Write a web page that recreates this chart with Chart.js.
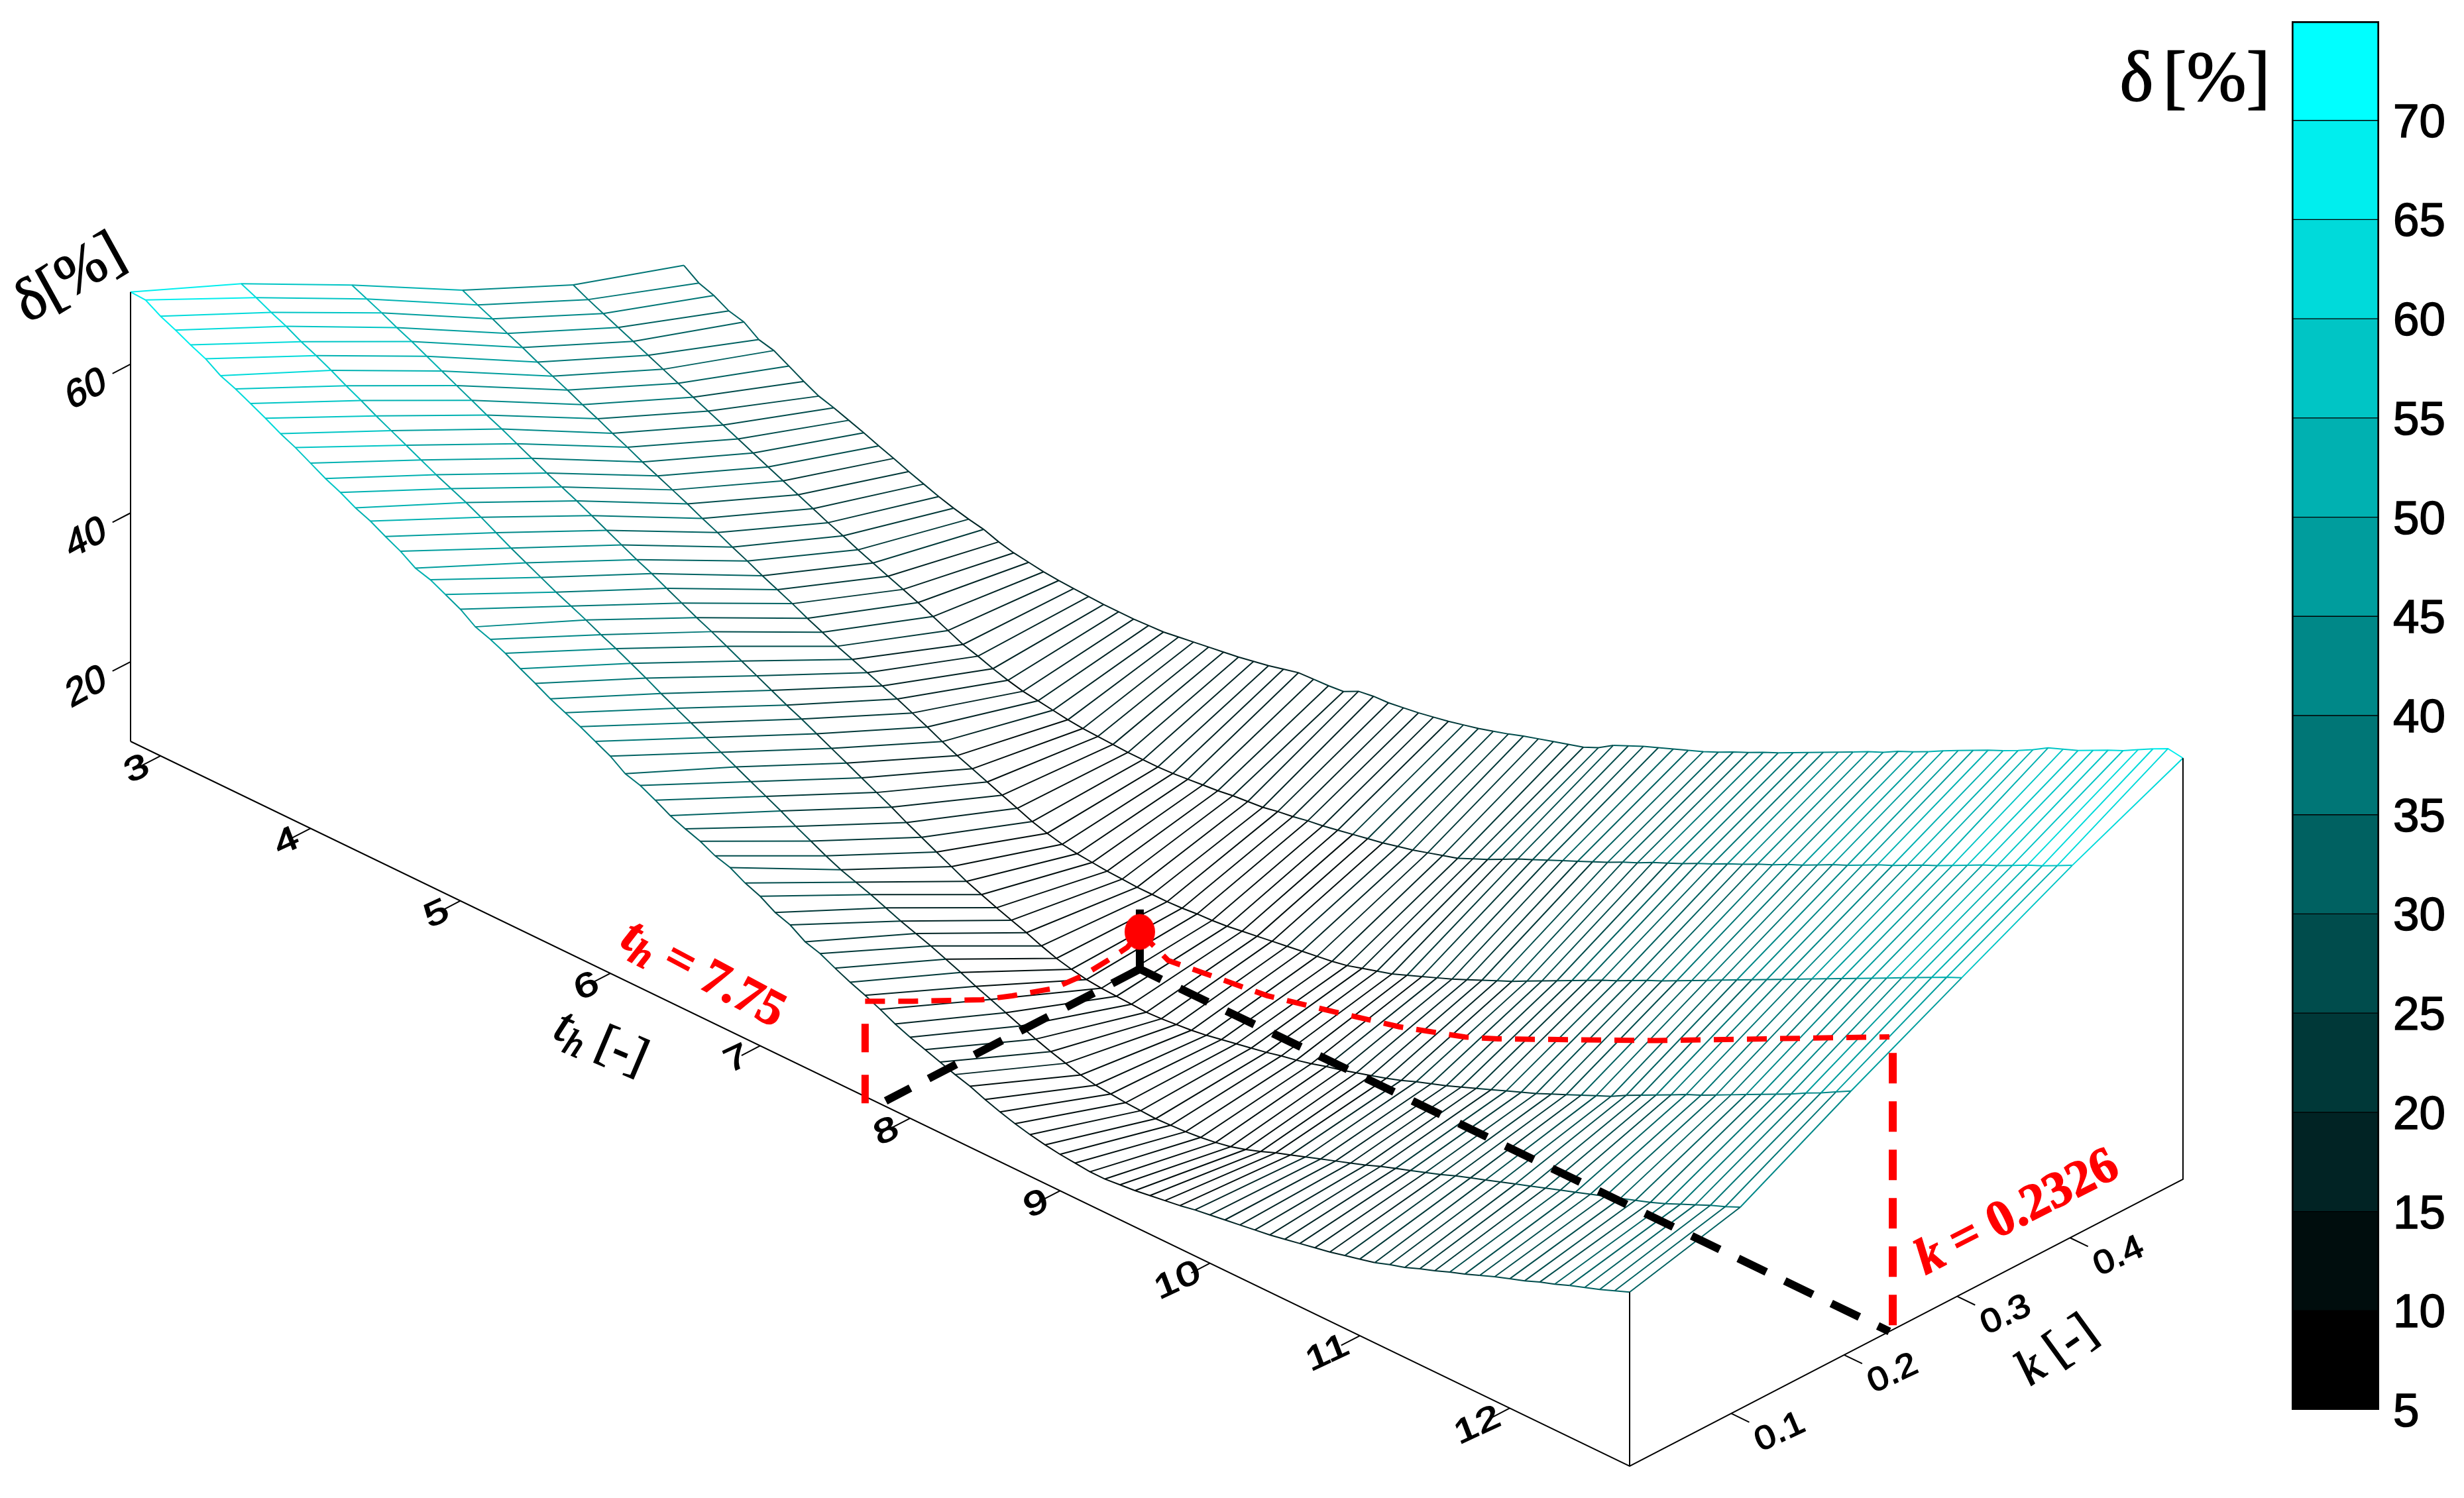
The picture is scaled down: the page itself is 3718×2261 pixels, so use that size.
<!DOCTYPE html>
<html>
<head>
<meta charset="utf-8">
<title>delta surface</title>
<script src="https://cdn.jsdelivr.net/npm/chart.js@4"></script>
<style>
    html, body { margin: 0; padding: 0; background: #fff; overflow: hidden; }
    #stage { position: relative; width: 3718px; height: 2261px; overflow: hidden; }
    #surfaceChart { position: absolute; left: 0; top: 0; }
    #colorbarChart { position: absolute; left: 3400px; top: -100px; }
</style>
</head>
<body>
<div id="stage">
    <canvas id="surfaceChart" width="3718" height="2261"></canvas>
    <canvas id="colorbarChart" width="318" height="2361"></canvas>
</div>
<script>
// ============================================
// Data
// ============================================

const kValues = [0.01, 0.108, 0.206, 0.304, 0.402, 0.5];

const thValues = [
    2.8, 2.9, 3.0, 3.1, 3.2, 3.3, 3.4, 3.5, 3.6, 3.7, 3.8, 3.9, 4.0, 4.1, 4.2, 4.3, 4.4, 4.5, 4.6, 4.7,
    4.8, 4.9, 5.0, 5.1, 5.2, 5.3, 5.4, 5.5, 5.6, 5.7, 5.8, 5.9, 6.0, 6.1, 6.2, 6.3, 6.4, 6.5, 6.6, 6.7,
    6.8, 6.9, 7.0, 7.1, 7.2, 7.3, 7.4, 7.5, 7.6, 7.7, 7.8, 7.9, 8.0, 8.1, 8.2, 8.3, 8.4, 8.5, 8.6, 8.7,
    8.8, 8.9, 9.0, 9.1, 9.2, 9.3, 9.4, 9.5, 9.6, 9.7, 9.8, 9.9, 10.0, 10.1, 10.2, 10.3, 10.4, 10.5, 10.6, 10.7,
    10.8, 10.9, 11.0, 11.1, 11.2, 11.3, 11.4, 11.5, 11.6, 11.7, 11.8, 11.9, 12.0, 12.1, 12.2, 12.3, 12.4, 12.5, 12.6, 12.7,
    12.8
];

const deltaK01 = [
    69.7, 69.6, 68.4, 67.5, 66.5, 65.6, 64.3, 63.5, 62.5, 61.5, 60.4, 59.5, 58.4, 57.3, 56.4, 55.3, 54.5, 53.4, 52.4, 51.1,
    50.5, 49.5, 48.5, 47.1, 46.4, 45.5, 44.4, 43.4, 42.3, 41.4, 40.5, 39.5, 38.5, 37.1, 36.5, 35.5, 34.4, 33.6, 32.9, 31.9,
    31.3, 30.2, 29.4, 28.2, 27.5, 26.2, 25.6, 24.6, 23.7, 22.9, 22.0, 21.0, 20.2, 19.5, 18.8, 18.1, 17.5, 16.7, 16.0, 15.4,
    14.9, 14.5, 14.2, 14.0, 13.8, 13.8, 14.0, 14.2, 14.5, 14.8, 15.1, 15.5, 15.8, 16.1, 16.4, 16.7, 17.0, 17.4, 17.8, 18.2,
    18.6, 19.1, 19.6, 20.1, 20.8, 21.4, 22.2, 22.9, 23.7, 24.4, 25.2, 26.0, 26.7, 27.4, 28.2, 28.9, 29.7, 30.4, 31.1, 31.9,
    32.7
];

const deltaK11 = [
    63.1, 62.2, 61.2, 60.3, 59.2, 58.3, 57.3, 56.2, 55.2, 54.1, 53.1, 52.1, 51.1, 50.1, 49.2, 48.3, 47.3, 46.2, 45.1, 44.1,
    43.1, 42.1, 41.2, 40.3, 39.3, 38.4, 37.4, 36.4, 35.3, 34.3, 33.3, 32.3, 31.3, 30.3, 29.3, 28.3, 27.3, 26.2, 25.2, 24.2,
    23.3, 22.6, 21.9, 21.1, 20.3, 19.6, 18.9, 18.1, 17.3, 16.4, 15.6, 14.8, 14.0, 13.2, 12.5, 11.9, 11.3, 10.9, 10.7, 10.5,
    10.4, 10.3, 10.4, 10.5, 10.7, 11.0, 11.4, 12.0, 12.7, 13.5, 14.2, 14.9, 15.6, 16.3, 17.0, 17.7, 18.5, 19.2, 19.9, 20.6,
    21.3, 22.1, 22.8, 23.5, 24.2, 24.9, 25.6, 26.3, 27.0, 27.7, 28.4, 29.1, 29.8, 30.5, 31.2, 32.0, 32.9, 33.8, 34.7, 35.5,
    36.4
];

const deltaK21 = [
    55.2, 54.3, 53.4, 52.4, 51.5, 50.5, 49.5, 48.5, 47.5, 46.5, 45.6, 44.6, 43.6, 42.6, 41.7, 40.8, 39.8, 38.8, 37.8, 36.8,
    35.9, 34.9, 33.9, 32.9, 32.0, 31.0, 30.0, 29.0, 28.0, 27.0, 26.1, 25.1, 24.1, 23.1, 22.1, 21.1, 20.1, 19.0, 18.0, 17.0,
    16.0, 15.0, 14.2, 13.4, 12.7, 12.0, 11.2, 10.5, 10.0, 9.6, 9.4, 9.3, 9.2, 9.1, 9.2, 9.4, 9.6, 9.9, 10.3, 10.7,
    11.1, 11.5, 12.0, 12.4, 12.9, 13.5, 14.0, 14.6, 15.2, 15.8, 16.5, 17.3, 18.0, 18.7, 19.5, 20.3, 21.1, 21.9, 22.7, 23.5,
    24.4, 25.3, 26.2, 27.1, 28.0, 29.1, 30.1, 31.1, 32.1, 33.1, 34.0, 35.0, 36.0, 37.0, 38.0, 39.0, 40.0, 41.1, 42.1, 43.2,
    44.3
];

const deltaK30 = [
    46.8, 45.8, 44.9, 43.9, 43.0, 42.0, 41.1, 40.2, 39.2, 38.3, 37.3, 36.4, 35.4, 34.5, 33.6, 32.7, 31.7, 30.8, 29.8, 28.9,
    27.9, 27.0, 26.1, 25.1, 24.2, 23.3, 22.5, 21.7, 20.9, 20.1, 19.2, 18.3, 17.3, 16.4, 15.6, 14.8, 14.0, 13.2, 12.4, 11.8,
    11.3, 11.0, 10.8, 10.6, 10.5, 10.4, 10.4, 10.4, 10.5, 10.7, 10.8, 11.0, 11.3, 11.6, 11.9, 12.2, 12.5, 12.8, 13.1, 13.5,
    14.1, 14.7, 15.3, 16.1, 16.9, 17.7, 18.5, 19.4, 20.3, 21.2, 22.1, 23.1, 24.1, 25.1, 26.1, 27.1, 28.1, 29.0, 30.0, 31.0,
    31.9, 32.9, 33.9, 34.9, 35.9, 36.9, 37.9, 38.9, 39.9, 40.9, 41.9, 42.9, 43.9, 44.9, 45.9, 46.9, 47.9, 48.9, 49.9, 50.9,
    51.8
];

const deltaK40 = [
    39.8, 38.8, 37.9, 37.0, 36.1, 35.2, 34.3, 33.4, 32.5, 31.6, 30.7, 29.8, 28.9, 28.0, 27.1, 26.2, 25.3, 24.4, 23.6, 22.7,
    21.9, 21.1, 20.3, 19.5, 18.6, 17.7, 16.8, 16.2, 15.5, 14.9, 14.4, 14.1, 13.8, 13.5, 13.3, 13.2, 13.1, 13.0, 13.0, 13.0,
    13.1, 13.3, 13.5, 13.7, 14.0, 14.2, 14.4, 14.8, 15.1, 15.5, 15.8, 16.2, 16.6, 17.0, 17.4, 17.9, 18.4, 19.0, 19.6, 20.2,
    21.1, 22.0, 23.0, 24.0, 24.9, 25.8, 26.7, 27.6, 28.5, 29.4, 30.4, 31.3, 32.3, 33.2, 34.1, 35.1, 36.0, 37.0, 37.9, 38.9,
    39.8, 40.8, 41.7, 42.7, 43.7, 44.6, 45.6, 46.6, 47.5, 48.5, 49.5, 50.4, 51.4, 52.4, 53.4, 54.3, 55.3, 56.3, 57.2, 58.2,
    59.2
];

const deltaK50 = [
    34.7, 33.3, 32.6, 31.5, 31.0, 29.6, 29.1, 28.0, 26.9, 25.9, 25.3, 24.6, 23.9, 23.1, 22.4, 21.6, 20.9, 20.2, 19.6, 19.1,
    18.7, 18.0, 17.5, 17.2, 16.9, 16.7, 16.6, 16.5, 16.4, 16.4, 16.4, 16.5, 16.6, 16.9, 17.2, 17.5, 17.8, 18.1, 18.5, 18.9,
    19.4, 19.9, 20.0, 20.1, 20.3, 21.3, 21.6, 21.7, 22.0, 22.3, 22.7, 23.1, 23.6, 24.1, 24.7, 25.3, 26.0, 26.6, 27.2, 27.8,
    28.4, 29.3, 30.6, 31.5, 32.4, 33.2, 34.0, 34.8, 35.6, 36.5, 37.5, 38.4, 39.4, 40.3, 41.3, 42.3, 43.3, 44.3, 45.3, 46.3,
    47.2, 48.3, 49.2, 50.2, 51.3, 52.3, 53.3, 54.3, 55.2, 56.2, 57.3, 58.5, 59.3, 60.1, 61.1, 62.1, 63.0, 64.1, 65.2, 66.2,
    65.9
];

const deltaColumns = [deltaK01, deltaK11, deltaK21, deltaK30, deltaK40, deltaK50];

const thTicks = [3, 4, 5, 6, 7, 8, 9, 10, 11, 12];
const kTicks = [0.1, 0.2, 0.3, 0.4];
const deltaTicks = [20, 40, 60];

const colorEdges = [5, 10, 15, 20, 25, 30, 35, 40, 45, 50, 55, 60, 65, 70, 75];
const colorBands = [
    "#000000", "#000d0d", "#012324", "#003838", "#004c4c", "#006161", "#007676",
    "#008888", "#009d9d", "#00b1b1", "#00c5c5", "#00dada", "#00eeee", "#00ffff"
];
const colorTicks = [5, 10, 15, 20, 25, 30, 35, 40, 45, 50, 55, 60, 65, 70];

// optimum marked on the surface, and the red traces leading to it
const optimumTh = 7.8;
const optimumK = 0.24;
const optimumDelta = 14.3;
const stemTopDelta = 17.3;

const crossTh = [7.7, 7.8, 7.8, 7.8, 7.8, 7.8, 7.8, 7.8, 7.8];
const crossK = [0.01, 0.039, 0.1, 0.127, 0.164, 0.19, 0.212, 0.229, 0.24];
const crossDelta = [22.1, 20.8, 16.2, 14.6, 12.7, 12.4, 12.7, 13.1, 14.3];

const alongTh = [7.8, 7.99, 8.22, 8.65, 9.1, 9.53, 9.97, 10.19, 11.25, 12.8];
const alongDelta = [14.3, 12.3, 12.9, 14.0, 16.2, 18.4, 21.3, 23.2, 33.3, 48.9];

// ============================================
// Oblique view of the box, in figure pixels
// ============================================

const thMin = 2.8, thMax = 12.8;
const kMin = 0.01, kMax = 0.5;
const deltaFloor = 9.3;

function project(th, k, delta) {
    return {
        x: 197 + 226.2 * (th - thMin) + 1704 * (k - kMin),
        y: 1119 + 109.4 * (th - thMin) - 884 * (k - kMin) - 11.23 * (delta - deltaFloor)
    };
}

function bandColor(delta) {
    const index = Math.floor((delta - colorEdges[0]) / 5);
    return colorBands[Math.max(0, Math.min(colorBands.length - 1, index))];
}

function meshLine(nodes) {
    const points = nodes.map((n) => Object.assign(project(n[0], n[1], n[2]), { delta: n[2] }));
    return {
        data: points,
        showLine: true,
        pointRadius: 0,
        borderWidth: 2,
        borderColor: "#006161",
        order: 5,
        segment: {
            borderColor: (ctx) => bandColor((points[ctx.p0DataIndex].delta + points[ctx.p1DataIndex].delta) / 2)
        }
    };
}

function strokeLine(nodes, color, width, extra) {
    return Object.assign({
        data: nodes.map((n) => project(n[0], n[1], n[2])),
        showLine: true,
        pointRadius: 0,
        borderColor: color,
        borderWidth: width,
        borderCapStyle: "butt",
        order: 3
    }, extra || {});
}

function buildDatasets() {
    const sets = [];

    // constant th lines, then constant k lines
    thValues.forEach((th, i) => {
        sets.push(meshLine(kValues.map((k, j) => [th, k, deltaColumns[j][i]])));
    });
    kValues.forEach((k, j) => {
        sets.push(meshLine(thValues.map((th, i) => [th, k, deltaColumns[j][i]])));
    });

    // box edges
    sets.push(strokeLine([[thMin, kMin, deltaFloor], [thMin, kMin, deltaK01[0]]], "#000", 2));
    sets.push(strokeLine([[thMin, kMin, deltaFloor], [thMax, kMin, deltaFloor], [thMax, kMax, deltaFloor], [thMax, kMax, deltaK50[100]]], "#000", 2));
    sets.push(strokeLine([[thMax, kMin, deltaFloor], [thMax, kMin, deltaK01[100]]], "#000", 2));

    // tick marks
    thTicks.forEach((th) => sets.push(strokeLine([[th, kMin, deltaFloor], [th, kMin - 0.0165, deltaFloor]], "#000", 2)));
    kTicks.forEach((k) => sets.push(strokeLine([[thMax, k, deltaFloor], [thMax + 0.12, k, deltaFloor]], "#000", 2)));
    deltaTicks.forEach((d) => sets.push(strokeLine([[thMin, kMin, d], [thMin, kMin - 0.016, d]], "#000", 2)));

    // black guides on the floor and the stem
    const blackDash = { borderDash: [47, 31], order: 2 };
    sets.push(strokeLine([[optimumTh, optimumK, deltaFloor], [optimumTh, 0.015, deltaFloor]], "#000", 12, blackDash));
    sets.push(strokeLine([[optimumTh, optimumK, deltaFloor], [thMax, optimumK, deltaFloor]], "#000", 12,
        Object.assign({ borderDashOffset: 11 }, blackDash)));
    sets.push(strokeLine([[optimumTh, optimumK, deltaFloor], [optimumTh, optimumK, stemTopDelta]], "#000", 12, { order: 2 }));

    // red risers and traces
    sets.push(strokeLine([[7.7, kMin, 8.4], [7.7, kMin, crossDelta[0]]], "#f00", 11, { borderDash: [43, 34], order: 1 }));
    sets.push(strokeLine([[thMax, 0.243, 9.9], [thMax, 0.243, 48.7]], "#f00", 12, { borderDash: [46, 27], order: 1 }));
    sets.push(strokeLine(crossTh.map((th, i) => [th, crossK[i], crossDelta[i]]), "#f00", 8, { borderDash: [30, 20], order: 1 }));
    sets.push(strokeLine(alongTh.map((th, i) => [th, optimumK, alongDelta[i]]), "#f00", 8, { borderDash: [30, 20], order: 1 }));

    // optimum marker
    sets.push({
        data: [project(optimumTh, optimumK, optimumDelta)],
        pointStyle: ellipseMarker(),
        showLine: false,
        order: 0
    });

    return sets;
}

function ellipseMarker() {
    const marker = document.createElement("canvas");
    marker.width = 48;
    marker.height = 56;
    const c = marker.getContext("2d");
    c.fillStyle = "#f00";
    c.beginPath();
    c.ellipse(24, 28, 23, 27, 0, 0, Math.PI * 2);
    c.fill();
    return marker;
}

// ============================================
// Text on the skewed axes
// ============================================

const SANS = '"Liberation Sans", Arial, sans-serif';
const SERIF = '"Liberation Serif", "Times New Roman", serif';

// runs: [{ text, font, dy, gap }]; angle is the baseline, tilt the lean of the up direction
function drawRuns(ctx, x, y, runs, style) {
    const a = style.angle * Math.PI / 180;
    const t = style.tilt * Math.PI / 180;
    const sx = style.sx || 1;
    let width = 0;
    runs.forEach((r) => {
        ctx.font = r.font;
        width += ctx.measureText(r.text).width + (r.gap || 0);
    });

    ctx.save();
    ctx.translate(x, y);
    ctx.transform(Math.cos(a) * sx, Math.sin(a) * sx, -Math.sin(t), Math.cos(t), 0, 0);
    ctx.fillStyle = style.color || "#000";
    ctx.strokeStyle = style.color || "#000";
    ctx.lineWidth = style.heavy === undefined ? 1.5 : style.heavy;
    ctx.textBaseline = "alphabetic";
    ctx.textAlign = "left";
    let pen = style.align === "left" ? 0 : -width / 2;
    runs.forEach((r) => {
        ctx.font = r.font;
        pen += r.gap || 0;
        ctx.fillText(r.text, pen, style.mid + (r.dy || 0));
        if (ctx.lineWidth > 0) ctx.strokeText(r.text, pen, style.mid + (r.dy || 0));
        pen += ctx.measureText(r.text).width;
    });
    ctx.restore();
}

const axisLabels = {
    id: "axisLabels",
    afterDatasetsDraw(chart) {
        const ctx = chart.ctx;
        const px = (p) => ({ x: chart.scales.x.getPixelForValue(p.x), y: chart.scales.y.getPixelForValue(p.y) });

        deltaTicks.forEach((d) => {
            const p = px(project(thMin, kMin, d));
            drawRuns(ctx, p.x - 68, p.y + 34, [{ text: String(d), font: "58px " + SANS }],
                { angle: -29, tilt: -16, mid: 21 });
        });
        thTicks.forEach((th) => {
            const p = px(project(th, kMin, deltaFloor));
            const wide = String(th).length > 1;
            drawRuns(ctx, p.x + (wide ? -50 : -37), p.y + (wide ? 23 : 17), [{ text: String(th), font: "50px " + SANS }],
                { angle: -25, tilt: -21, sx: 1.3, mid: 18 });
        });
        kTicks.forEach((k) => {
            const p = px(project(thMax, k, deltaFloor));
            drawRuns(ctx, p.x + 72, p.y + 25, [{ text: k.toFixed(1), font: "50px " + SANS }],
                { angle: -25, tilt: -23, sx: 1.12, mid: 18 });
        });

        const italic = (size) => "italic " + size + "px " + SERIF;
        const plain = (size) => size + "px " + SERIF;
        const boldItalic = (size) => "italic bold " + size + "px " + SERIF;
        const bold = (size) => "bold " + size + "px " + SERIF;

        drawRuns(ctx, 105, 420, [{ text: "δ[%]", font: plain(90) }], { angle: -31, tilt: -29, mid: 26 });
        drawRuns(ctx, 907, 1573, [
            { text: "t", font: italic(76) },
            { text: "h", font: italic(56), dy: 14 },
            { text: " [-]", font: plain(76) }
        ], { angle: 23, tilt: 23, mid: 22 });
        drawRuns(ctx, 3103, 2038, [
            { text: "k", font: italic(76) },
            { text: " [-]", font: plain(76) }
        ], { angle: -35, tilt: -36, mid: 22 });

        drawRuns(ctx, 1063, 1467, [
            { text: "t", font: boldItalic(76) },
            { text: "h", font: boldItalic(56), dy: 14 },
            { text: " = 7.75", font: bold(76) }
        ], { angle: 28, tilt: 28, mid: 25, color: "#f00" });
        drawRuns(ctx, 3042, 1827, [
            { text: "k", font: boldItalic(77) },
            { text: " = 0.2326", font: bold(77) }
        ], { angle: -27, tilt: -27, mid: 25, color: "#f00" });

        drawRuns(ctx, 3312, 120, [
            { text: "δ", font: plain(108) },
            { text: "[%]", font: plain(108), gap: 14 }
        ], { angle: 0, tilt: 0, mid: 32 });
    }
};

const colorbarLabels = {
    id: "colorbarLabels",
    afterDraw(chart) {
        const scale = chart.scales.y;
        colorTicks.forEach((value) => {
            drawRuns(chart.ctx, 211, scale.getPixelForValue(value), [{ text: String(value), font: "71px " + SANS }],
                { angle: 0, tilt: 0, mid: 25, align: "left" });
        });
    }
};

// ============================================
// Charts
// ============================================

function initialiseSurfaceChart() {
    new Chart(document.getElementById("surfaceChart"), {
        type: "scatter",
        data: { datasets: buildDatasets() },
        options: {
            responsive: false,
            animation: false,
            parsing: false,
            normalized: true,
            layout: { padding: 0, autoPadding: false },
            plugins: { legend: { display: false }, tooltip: { enabled: false } },
            elements: { line: { tension: 0 } },
            scales: {
                x: { type: "linear", min: 0, max: 3718, display: false },
                y: { type: "linear", min: 0, max: 2261, reverse: true, display: false }
            }
        },
        plugins: [axisLabels]
    });
}

function initialiseColorbar() {
    const last = colorBands.length - 1;
    new Chart(document.getElementById("colorbarChart"), {
        type: "bar",
        data: {
            labels: [""],
            datasets: colorBands.map((color, i) => ({
                data: [[colorEdges[i], colorEdges[i + 1]]],
                backgroundColor: color,
                borderColor: "#000",
                borderWidth: { left: 3, right: 3, top: i === last ? 3 : 1, bottom: 1 },
                borderSkipped: false,
                grouped: false,
                barPercentage: 1,
                categoryPercentage: 1
            }))
        },
        options: {
            responsive: false,
            animation: false,
            layout: { padding: { left: 58, top: 132, bottom: 133, right: 0 }, autoPadding: false },
            plugins: { legend: { display: false }, tooltip: { enabled: false } },
            scales: {
                x: { display: false },
                y: {
                    position: "right",
                    min: 5,
                    max: 75,
                    afterFit: (scale) => { scale.width = 128; },
                    grid: { display: false, drawTicks: false },
                    border: { display: false },
                    ticks: { stepSize: 5, display: false }
                }
            }
        },
        plugins: [colorbarLabels]
    });
}

initialiseSurfaceChart();
initialiseColorbar();
</script>
</body>
</html>
